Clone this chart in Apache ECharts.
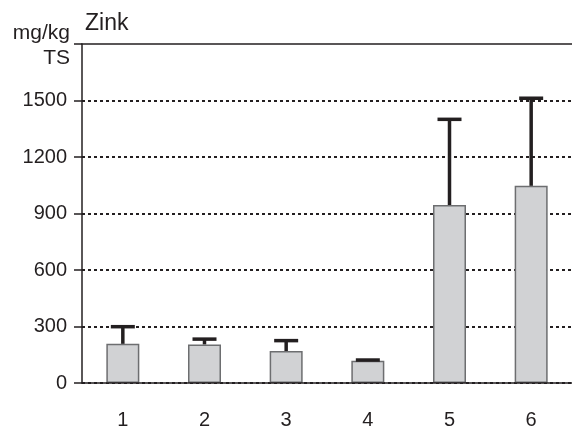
<!DOCTYPE html>
<html>
<head>
<meta charset="utf-8">
<script src="https://cdn.jsdelivr.net/npm/echarts@6/dist/echarts.min.js"></script>
<style>
  html, body { margin: 0; padding: 0; background: #fff; }
  #chart { width: 572px; height: 430px; }
</style>
</head>
<body>
<div id="chart"></div>
<script>
// Zinc content per sample group (mg/kg dry matter) with upper error
const categories = ['1', '2', '3', '4', '5', '6'];
const means = [208, 205, 170, 118, 945, 1047];
const upper = [299, 233, 225, 122, 1400, 1512];
const yTicks = [0, 300, 600, 900, 1200, 1500, 1800];

const ink = '#231f20';
const font = 'Liberation Sans, Arial, Helvetica, sans-serif';

// dotted grid lines everywhere except the top edge, which is a solid frame line
const gridColors = yTicks.map((v, i) => (i === yTicks.length - 1 ? 'rgba(0,0,0,0)' : ink));

const chart = echarts.init(document.getElementById('chart'));

chart.setOption({
  animation: false,
  grid: { left: 82, right: 0, top: 44, bottom: 46, containLabel: false },
  title: {
    text: 'Zink',
    left: 80, top: 7,
    textStyle: { fontFamily: font, fontWeight: 'normal', fontSize: 23, color: ink }
  },
  xAxis: [{
    type: 'category',
    data: categories,
    z: 6,
    axisLine: { lineStyle: { color: ink, width: 1.5 } },
    axisTick: { show: false },
    axisLabel: { margin: 27, fontFamily: font, fontSize: 20, color: ink }
  }, {
    type: 'category',
    position: 'top',
    data: categories,
    z: 6,
    axisLine: { show: true, onZero: false, lineStyle: { color: ink, width: 1.5 } },
    axisTick: { show: false },
    axisLabel: { show: false }
  }],
  yAxis: {
    type: 'value',
    min: yTicks[0],
    max: yTicks[yTicks.length - 1],
    interval: 300,
    name: 'mg/kg\nTS',
    nameLocation: 'end',
    nameGap: -1.5,
    nameTextStyle: {
      fontFamily: font, fontSize: 21, color: ink, align: 'right',
      verticalAlign: 'middle', lineHeight: 25, padding: [0, 12, 0, 0]
    },
    axisLine: { show: true, lineStyle: { color: ink, width: 1.5 } },
    axisTick: { show: true, length: 8, lineStyle: { color: ink, width: 1.5 } },
    axisLabel: {
      margin: 15, fontFamily: font, fontSize: 20, color: ink,
      formatter: v => (v === 1800 ? '' : String(v))
    },
    splitLine: {
      show: true,
      lineStyle: { color: gridColors, width: 2, type: [3, 3] }
    }
  },
  series: [{
    type: 'bar',
    data: means,
    barWidth: 33,
    itemStyle: { color: '#d1d2d4', borderColor: '#6d6e70', borderWidth: 1.5 },
    z: 3
  }, {
    type: 'custom',
    data: categories.map((c, i) => [i, means[i], upper[i]]),
    z: 4,
    renderItem: function (params, api) {
      const base = api.coord([api.value(0), api.value(1)]);
      const top = api.coord([api.value(0), api.value(2)]);
      const half = 12;
      const style = { stroke: ink, lineWidth: 3.5 };
      return {
        type: 'group',
        children: [
          { type: 'line', shape: { x1: base[0], y1: base[1], x2: top[0], y2: top[1] }, style: style },
          { type: 'line', shape: { x1: top[0] - half, y1: top[1], x2: top[0] + half, y2: top[1] }, style: style }
        ]
      };
    }
  }]
});
</script>
</body>
</html>
